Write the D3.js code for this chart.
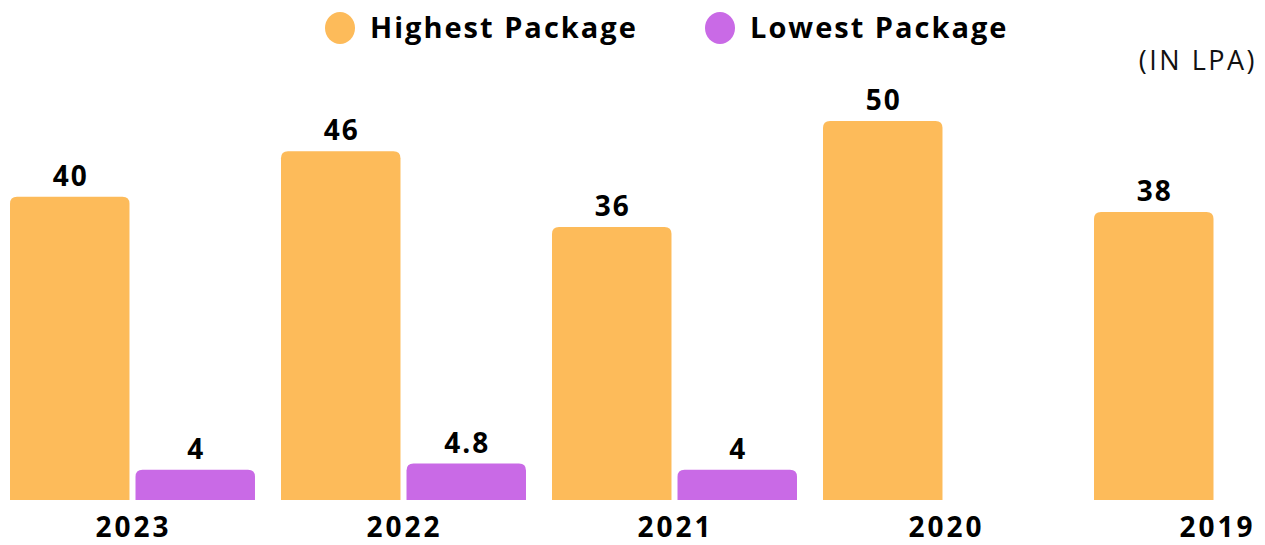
<!DOCTYPE html>
<html>
<head>
<meta charset="utf-8">
<script src="https://cdn.jsdelivr.net/npm/d3@7"></script>
<style>
  body { margin: 0; background: #fff; }
  svg text { font-family: "Open Sans", "Noto Sans", sans-serif; }
</style>
</head>
<body>
<div id="chart"></div>
<script>
// chart data
var years = ["2023", "2022", "2021", "2020", "2019"];
var highest = [40, 46, 36, 50, 38];
var lowest = [4, 4.8, 4, null, null];
var seriesNames = ["Highest Package", "Lowest Package"];
var seriesColors = ["#FDBB5A", "#C96AE6"];

var svgWidth = 1265;
var svgHeight = 545;

var svg = d3.select("#chart")
  .append("svg")
  .attr("width", svgWidth)
  .attr("height", svgHeight);

var baseline = 500;

var x0 = d3.scaleBand()
  .domain(years)
  .range([10, 1339])
  .paddingInner(0.096)
  .paddingOuter(0);

var x1 = d3.scaleBand()
  .domain(["high", "low"])
  .range([0, x0.bandwidth()])
  .paddingInner(0.048);

var y = d3.scaleLinear()
  .domain([0, 50])
  .range([baseline, 121]);

var rows = years.map(function(yr, i) {
  return [
    { year: yr, key: "high", value: highest[i], color: seriesColors[0] },
    { year: yr, key: "low", value: lowest[i], color: seriesColors[1] }
  ].filter(d => d.value != null);
});

// bar with rounded top corners
function topRounded(x, yTop, w, h, r) {
  r = Math.min(r, h, w / 2);
  return "M" + x + "," + (yTop + h) +
    "V" + (yTop + r) +
    "Q" + x + "," + yTop + " " + (x + r) + "," + yTop +
    "H" + (x + w - r) +
    "Q" + (x + w) + "," + yTop + " " + (x + w) + "," + (yTop + r) +
    "V" + (yTop + h) + "Z";
}

var groups = svg.selectAll("g.grp")
  .data(rows)
  .enter()
  .append("g")
  .attr("class", "grp")
  .attr("transform", (d, i) => `translate(${x0(years[i])},0)`);

groups.selectAll("path")
  .data(d => d)
  .enter()
  .append("path")
  .attr("fill", d => d.color)
  .attr("d", d => topRounded(x1(d.key), y(d.value), x1.bandwidth(), baseline - y(d.value), 7));

groups.selectAll("text.val")
  .data(d => d)
  .enter()
  .append("text")
  .attr("class", "val")
  .attr("x", d => x1(d.key) + x1.bandwidth() / 2 + 1)
  .attr("y", d => y(d.value) - 11)
  .attr("text-anchor", "middle")
  .style("font-size", "28px")
  .style("font-weight", "700")
  .style("letter-spacing", "2px")
  .attr("fill", "#000")
  .text(d => d.value);

// year labels under the groups
var bottomAxis = d3.axisBottom(x0).tickSize(0).tickPadding(0);
var axisG = svg.append("g")
  .attr("transform", `translate(0, ${baseline})`)
  .call(bottomAxis);
axisG.select(".domain").remove();
axisG.selectAll("text")
  .attr("dy", 0)
  .attr("x", 1)
  .attr("y", 37)
  .style("font-size", "28px")
  .style("font-weight", "700")
  .style("letter-spacing", "3px")
  .attr("fill", "#000");

// legend
var legendX = [340, 720];
var legend = svg.selectAll("g.legend")
  .data(seriesNames)
  .enter()
  .append("g")
  .attr("class", "legend")
  .attr("transform", (d, i) => `translate(${legendX[i]}, 28)`);

legend.append("ellipse")
  .attr("rx", 15)
  .attr("ry", 16)
  .attr("fill", (d, i) => seriesColors[i]);

legend.append("text")
  .attr("x", 30)
  .attr("y", 10)
  .style("font-size", "29px")
  .style("font-weight", "700")
  .style("letter-spacing", "2px")
  .attr("fill", "#000")
  .text(d => d);

// units note
svg.append("text")
  .attr("x", 1257)
  .attr("y", 70)
  .attr("text-anchor", "end")
  .style("font-size", "27px")
  .style("letter-spacing", "2.5px")
  .attr("fill", "#111")
  .text("(IN LPA)");
</script>
</body>
</html>
